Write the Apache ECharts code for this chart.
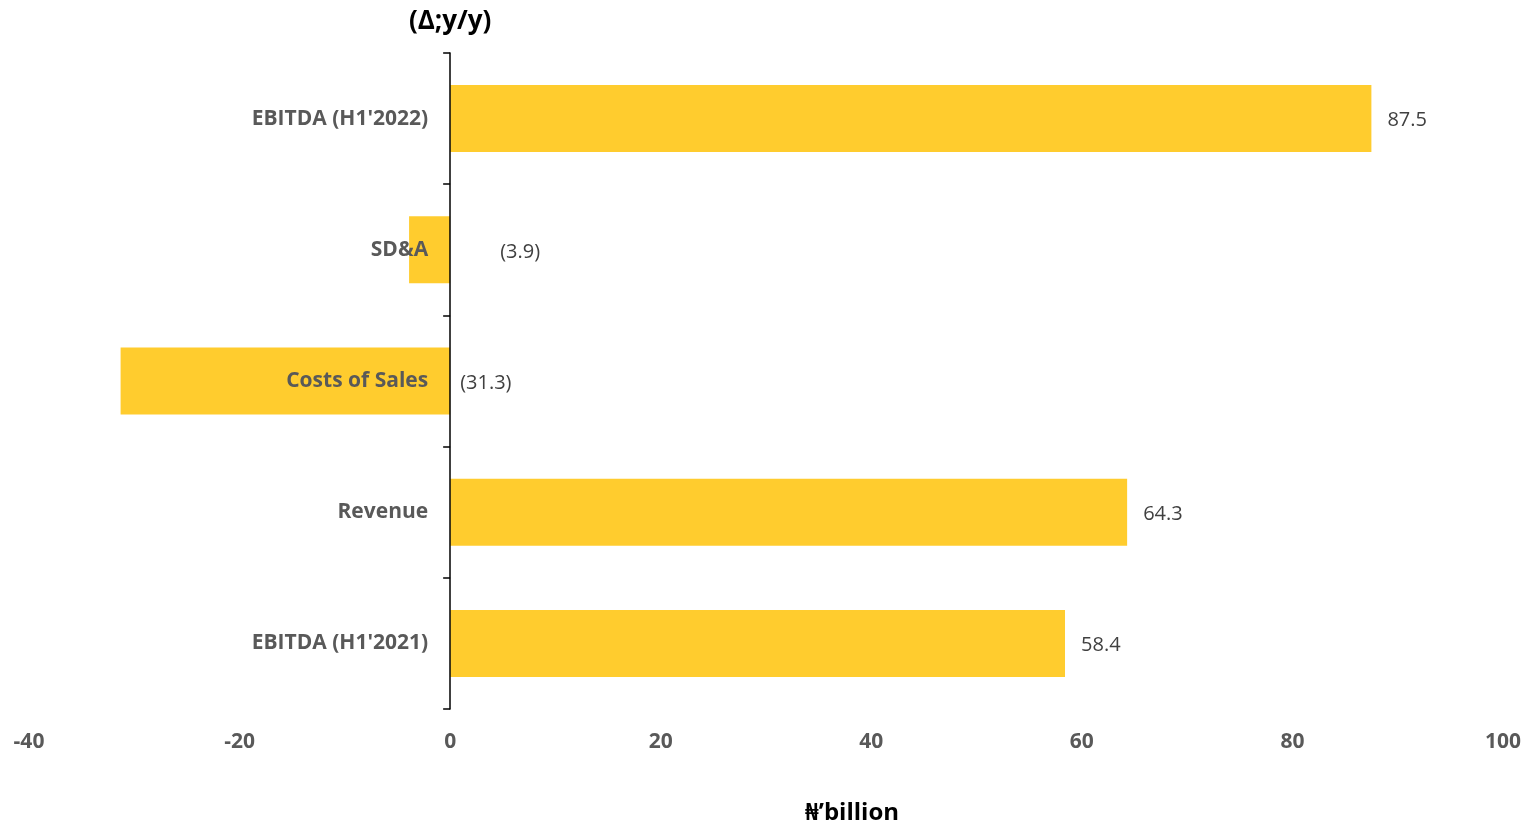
<!DOCTYPE html>
<html>
<head>
<meta charset="utf-8">
<title>EBITDA bridge</title>
<script src="https://cdn.jsdelivr.net/npm/echarts@6/dist/echarts.min.js"></script>
<style>
  html, body { margin: 0; padding: 0; background: #ffffff; }
  #chart { width: 1532px; height: 824px; }
</style>
</head>
<body>
<div id="chart"></div>
<script>
// Bridge items, bottom to top
const categories = ["EBITDA (H1'2021)", "Revenue", "Costs of Sales", "SD&A", "EBITDA (H1'2022)"];
const changes = [58.4, 64.3, -31.3, -3.9, 87.5];
// Extra gap for the value label of each bar
const labelGaps = [16, 16, 10, 50, 16];

const xTicks = { min: -40, max: 100, interval: 20 };
const unitLabel = '₦’billion';

const fontFamily = '"Open Sans", "Noto Sans", sans-serif';

const gridLeft = 29, gridRight = 29;
const chartWidth = 1532;

function fmt(v) {
  return v < 0 ? '(' + Math.abs(v).toFixed(1) + ')' : v.toFixed(1);
}

// Pixel distance from the grid's left edge to the zero line, so the category axis sits on zero
const plotWidth = chartWidth - gridLeft - gridRight;
const zeroShift = plotWidth * (0 - xTicks.min) / (xTicks.max - xTicks.min);

const chart = echarts.init(document.getElementById('chart'));
chart.setOption({
  animation: false,
  backgroundColor: '#ffffff',
  textStyle: { fontFamily: fontFamily },
  // Unit caption under the value axis
  title: {
    text: unitLabel,
    left: 852,
    top: 801,
    textAlign: 'center',
    padding: 0,
    textStyle: { fontSize: 24, fontWeight: 'bold', color: '#000000', fontFamily: fontFamily }
  },
  grid: { left: gridLeft, right: gridRight, top: 53, bottom: 115, containLabel: false, outerBoundsMode: 'none' },
  xAxis: {
    type: 'value',
    min: xTicks.min,
    max: xTicks.max,
    interval: xTicks.interval,
    axisLine: { show: false },
    axisTick: { show: false },
    splitLine: { show: false },
    axisLabel: {
      margin: 23,
      fontSize: 21,
      fontWeight: 'bold',
      color: '#595959',
      fontFamily: fontFamily
    }
  },
  yAxis: {
    type: 'category',
    data: categories,
    position: 'left',
    offset: -zeroShift,
    z: 5,
    axisLine: { show: true, onZero: false, lineStyle: { color: '#000000', width: 1.5 } },
    axisTick: { show: true, length: 7, lineStyle: { color: '#000000', width: 1.5 } },
    axisLabel: {
      margin: 22,
      fontSize: 21,
      fontWeight: 'bold',
      color: '#595959',
      fontFamily: fontFamily
    },
    name: '(Δ;y/y)',
    nameLocation: 'end',
    nameGap: 18,
    nameTextStyle: { fontSize: 26, fontWeight: 'bold', color: '#000000', fontFamily: fontFamily, align: 'center' }
  },
  series: [{
    type: 'bar',
    barWidth: 67,
    itemStyle: { color: '#FFCC2E' },
    z: 1,
    data: changes.map((v, i) => ({
      value: v,
      label: {
        show: true,
        position: 'right',
        distance: labelGaps[i],
        offset: [0, 2],
        formatter: () => fmt(v),
        fontSize: 20,
        color: '#404040',
        fontFamily: fontFamily
      }
    }))
  }]
});
</script>
</body>
</html>
